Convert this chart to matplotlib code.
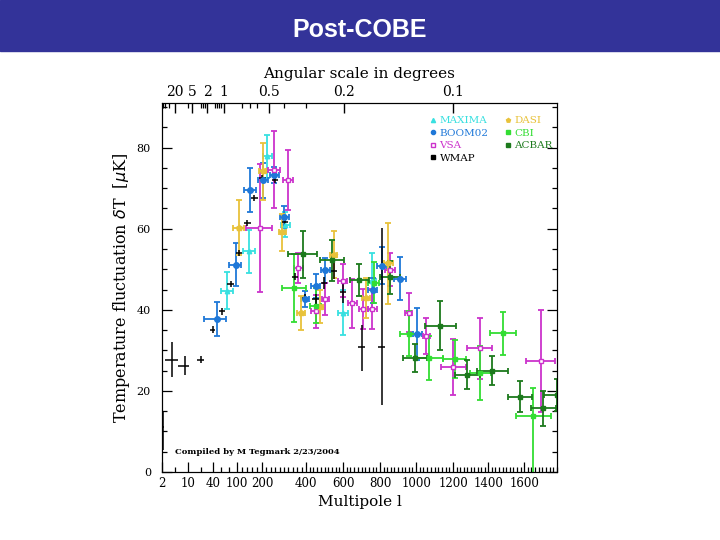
import numpy as np
import matplotlib
matplotlib.use("Agg")
import matplotlib.pyplot as plt
from matplotlib.lines import Line2D
from matplotlib.patches import Rectangle

# ---- data (l, half bin width, dT, error) ----
maxima_l = [76, 148, 224, 305, 600, 755]
maxima_dl = [15, 24, 21, 20, 25, 25]
maxima_t = [44.7, 54.4, 77.9, 61.0, 39.3, 47.0]
maxima_dt = [4.6, 5.4, 5.3, 3.0, 5.6, 7.0]

boom_l = [51, 97, 152, 206, 255, 301, 396, 452, 505, 760, 809, 910, 1007]
boom_dl = [22, 17, 23, 21, 20, 20, 20, 25, 25, 25, 27, 32, 25]
boom_t = [37.7, 51.1, 69.6, 71.9, 73.3, 62.9, 42.6, 45.8, 49.7, 44.8, 50.9, 47.6, 34.1]
boom_dt = [4.2, 5.3, 5.4, 4.3, 2.0, 2.8, 2.0, 3.0, 3.0, 3.0, 4.5, 5.3, 6.4]

vsa_l = [191, 255, 317, 365, 452, 505, 597, 650, 710, 758, 855, 958, 1055, 1202, 1352, 1690]
vsa_dl = [55, 27, 22, 20, 25, 20, 25, 25, 25, 25, 30, 22, 20, 70, 70, 80]
vsa_t = [60.2, 74.6, 71.9, 50.3, 39.6, 42.6, 47.2, 41.6, 40.2, 40.2, 49.9, 39.3, 33.6, 25.8, 30.5, 27.4]
vsa_dt = [15.8, 9.4, 7.4, 3.7, 4.0, 4.0, 4.0, 6.0, 5.0, 5.0, 4.0, 4.8, 4.4, 6.9, 7.5, 12.6]

dasi_l = [108, 203, 292, 376, 475, 549, 723, 845]
dasi_dl = [18, 15, 15, 18, 18, 20, 20, 25]
dasi_t = [60.2, 74.2, 59.1, 39.2, 40.8, 53.6, 42.9, 51.5]
dasi_dt = [6.8, 7.0, 4.5, 4.3, 4.0, 5.8, 5.0, 10.0]

cbi_l = [345, 452, 765, 958, 1072, 1211, 1356, 1483, 1650]
cbi_dl = [55, 30, 30, 48, 72, 65, 60, 70, 95]
cbi_t = [45.4, 41.0, 46.7, 34.1, 28.1, 27.8, 24.4, 34.2, 13.7]
cbi_dt_lo = [8.4, 4.3, 5.0, 5.6, 5.4, 4.7, 6.7, 5.3, 14.0]
cbi_dt_hi = [8.4, 4.3, 5.0, 5.6, 5.4, 4.7, 6.7, 5.3, 7.0]

acbar_l = [388, 538, 688, 855, 995, 1131, 1282, 1423, 1577, 1705, 1780]
acbar_dl = [70, 65, 50, 55, 65, 85, 70, 85, 65, 70, 70]
acbar_t = [53.7, 52.2, 47.4, 48.0, 28.1, 36.1, 24.0, 25.0, 18.6, 15.7, 19.0]
acbar_dt = [5.8, 5.0, 4.0, 4.0, 3.5, 6.0, 3.6, 3.5, 3.9, 4.3, 4.0]

wmap_l = [2.3, 5, 9, 25, 41, 63, 84, 109, 141, 168, 201, 259, 305, 350, 395, 452, 497, 551, 600, 701, 809]
wmap_dl = [0.2, 2, 2, 4, 5, 7, 9, 12, 14, 14, 15, 15, 15, 15, 15, 18, 18, 18, 18, 18, 18]
wmap_t = [11.0, 27.7, 26.2, 27.7, 35.1, 39.6, 46.4, 54.0, 61.4, 67.6, 72.5, 72.1, 61.6, 48.2,
          43.0, 42.7, 46.7, 49.5, 44.3, 30.9, 30.9]
wmap_dt_lo = [5.5, 4.3, 2.4, 0.8, 0.8, 0.8, 0.8, 0.8, 0.8, 0.8, 0.8, 0.8, 0.8, 0.8,
              1.0, 1.2, 1.5, 2.0, 2.5, 6.1, 14.4]
wmap_dt_hi = [4.0, 4.3, 2.4, 0.8, 0.8, 0.8, 0.8, 0.8, 0.8, 0.8, 0.8, 0.8, 0.8, 0.8,
              1.0, 1.2, 1.5, 2.0, 2.5, 5.4, 29.3]

bottom_ticks = [2, 10, 40, 100, 200, 400, 600, 800, 1000, 1200, 1400, 1600]
# angular-scale labels and the multipoles where they sit in the picture
top_labels = ["20", "5", "2", "1", "0.5", "0.2", "0.1"]
top_label_l = [6, 15, 33, 67, 232, 605, 1200]
top_minor_l = [2.3, 3, 4, 10, 25, 28, 30, 45, 50, 55, 60, 120, 150, 180, 300, 400]

# multipole axis of the original: log-like at low l, linear at high l
AXIS_L = [1, 2, 10, 40, 100, 200, 400, 600, 800, 1000, 1200, 1400, 1600, 2000]
AXIS_PX = [157, 162, 188, 213, 237, 262, 306, 343, 380, 416, 453, 488, 524, 597]


def fwd(l):
    return np.interp(l, AXIS_L, AXIS_PX)


def inv(p):
    return np.interp(p, AXIS_PX, AXIS_L)


serif = "DejaVu Serif"
dpi = 100
fig = plt.figure(figsize=(7.2, 5.4), dpi=dpi)
fig.patches.append(Rectangle((0, 1 - 51 / 540), 1, 51 / 540, transform=fig.transFigure,
                             color="#333399", zorder=0))
fig.text(0.5, 1 - 30 / 540, "Post-COBE", ha="center", va="center", color="white",
         fontsize=18, fontweight="bold", family="Liberation Sans")

ax = fig.add_axes([162 / 720, 68 / 540, 395 / 720, 369 / 540])
ax.set_xscale("function", functions=(fwd, inv))
ax.set_xlim(2, 1780)
ax.set_ylim(0, 91)

series = [
    (maxima_l, maxima_dl, maxima_t, maxima_dt, "#38e0e0", "^", "#38e0e0", 3.2),
    (boom_l, boom_dl, boom_t, boom_dt, "#1f78d8", "o", "#1f78d8", 4),
    (vsa_l, vsa_dl, vsa_t, vsa_dt, "#cc33cc", "s", "white", 3.5),
    (dasi_l, dasi_dl, dasi_t, dasi_dt, "#e8c23a", "p", "#e8c23a", 4),
    (cbi_l, cbi_dl, cbi_t, [cbi_dt_lo, cbi_dt_hi], "#33dd33", "s", "#33dd33", 3.2),
    (acbar_l, acbar_dl, acbar_t, acbar_dt, "#1c7a1c", "s", "#1c7a1c", 3.2),
]
for l, dl, t, dt, c, m, mfc, ms in series:
    ax.errorbar(l, t, yerr=dt, xerr=dl, fmt=m, color=c, mfc=mfc, mec=c, ms=ms,
                elinewidth=1.3, capsize=2.5, capthick=1.3)
ax.errorbar(wmap_l, wmap_t, yerr=[wmap_dt_lo, wmap_dt_hi], xerr=wmap_dl, fmt="none",
            ecolor="black", elinewidth=1.1, capsize=0)

ax.set_xticks(bottom_ticks)
ax.set_xticklabels([str(v) for v in bottom_ticks], family=serif, fontsize=8.5)
minor = [6, 25, 60, 80] + [v for v in range(120, 1781, 20) if v % 200 != 0]
ax.set_xticks(minor, minor=True)
ax.set_yticks([0, 20, 40, 60, 80])
ax.set_yticklabels(["0", "20", "40", "60", "80"], family=serif, fontsize=8)
ax.set_yticks(np.arange(5, 91, 5), minor=True)
ax.tick_params(which="both", direction="in", right=True, top=False)
ax.tick_params(which="major", length=7, width=0.9)
ax.tick_params(which="minor", length=3.5, width=0.9)
ax.tick_params(axis="y", pad=8)
ax.set_xlabel("Multipole l", family=serif, fontsize=11, labelpad=4)
ax.set_ylabel(r"Temperature fluctuation $\delta$T  [$\mu$K]", family=serif, fontsize=11.5,
              labelpad=3)

top = ax.twiny()
top.set_xscale("function", functions=(fwd, inv))
top.set_xlim(ax.get_xlim())
top.set_xticks(top_label_l)
top.set_xticklabels(top_labels, family=serif, fontsize=10)
top.set_xticks(top_minor_l, minor=True)
top.tick_params(which="both", direction="in", pad=3, top=True, bottom=False)
top.tick_params(which="major", length=7, width=1.0)
top.tick_params(which="minor", length=3.5, width=0.9)
top.set_xlabel("Angular scale in degrees", family=serif, fontsize=11, labelpad=5)

names = ["MAXIMA", "BOOM02", "VSA", "WMAP", "DASI", "CBI", "ACBAR"]
cols = ["#38e0e0", "#1f78d8", "#cc33cc", "black", "#e8c23a", "#33dd33", "#1c7a1c"]
marks = ["^", "o", "s", "s", "p", "s", "s"]
fills = ["#38e0e0", "#1f78d8", "white", "black", "#e8c23a", "#33dd33", "#1c7a1c"]
handles = [Line2D([], [], ls="none", marker=m, color=c, mfc=f, mec=c, ms=3)
           for c, m, f in zip(cols, marks, fills)]
leg = ax.legend(handles, names, ncol=2, loc="upper left", bbox_to_anchor=(0.655, 0.99),
                frameon=False, handlelength=0.5, handletextpad=0.4, columnspacing=1.6,
                labelspacing=0.3, prop={"family": serif, "size": 7.5})
for txt, c in zip(leg.get_texts(), cols):
    txt.set_color(c)

ax.text(0.033, 0.049, "Compiled by M Tegmark 2/23/2004", transform=ax.transAxes,
        family=serif, fontsize=6, fontweight="bold")

fig.savefig("out.png", dpi=dpi)
